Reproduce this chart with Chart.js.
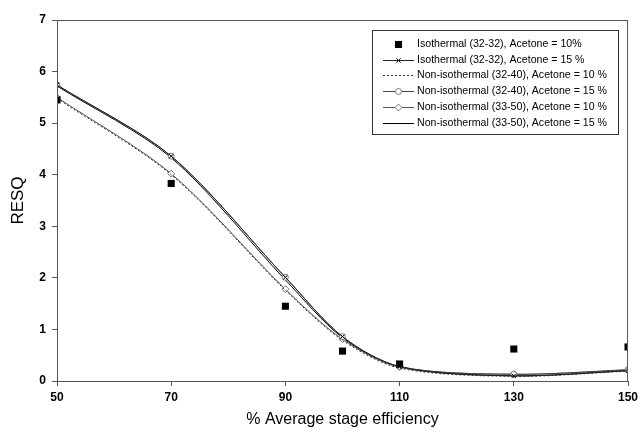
<!DOCTYPE html>
<html>
<head>
<meta charset="utf-8">
<script src="https://cdn.jsdelivr.net/npm/chart.js@4/dist/chart.umd.min.js"></script>
<style>
html,body{margin:0;padding:0;background:#fff;}
#wrap{position:relative;width:643px;height:438px;}
</style>
</head>
<body>
<div id="wrap"><canvas id="c" width="643" height="438"></canvas></div>
<script>
// ---- data ----
const efficiency = [50, 70, 90, 100, 110, 130, 150];
const xTicks = [50, 70, 90, 110, 130, 150];
const yTicks = [0, 1, 2, 3, 4, 5, 6, 7];
const seriesNames = [
  'Isothermal (32-32), Acetone = 10%',
  'Isothermal (32-32), Acetone = 15 %',
  'Non-isothermal (32-40), Acetone = 10 %',
  'Non-isothermal (32-40), Acetone = 15 %',
  'Non-isothermal (33-50), Acetone = 10 %',
  'Non-isothermal (33-50), Acetone = 15 %'
];
const iso10     = [5.45, 3.83, 1.45, 0.58, 0.33, 0.62, 0.66];
const iso15     = [5.74, 4.36, 2.01, 0.86, 0.28, 0.10, 0.20];
const non3240_10 = [5.48, 4.00, 1.76, 0.79, 0.25, 0.09, 0.19];
const non3240_15 = [5.74, 4.36, 2.01, 0.86, 0.28, 0.13, 0.22];
const non3350_10 = [5.50, 4.02, 1.78, 0.81, 0.27, 0.13, 0.21];
const non3350_15 = [5.72, 4.33, 1.96, 0.84, 0.27, 0.10, 0.20];

const pts = arr => arr.map((v, i) => ({x: efficiency[i], y: v}));

const styles = [
  {showLine:false, pointStyle:'rect', pointRadius:5, backgroundColor:'#000', borderColor:'#000', borderWidth:0},
  {showLine:true, pointStyle:'crossRot', pointRadius:3, backgroundColor:'#000', borderColor:'#222', borderWidth:1, pointBorderColor:'#000'},
  {showLine:true, pointStyle:false, pointRadius:0, borderColor:'#333', borderWidth:1, borderDash:[2,2]},
  {showLine:true, pointStyle:'circle', pointRadius:3, backgroundColor:'#fff', borderColor:'#444', borderWidth:1, pointBorderColor:'#777'},
  {showLine:true, pointStyle:'rectRot', pointRadius:3.5, backgroundColor:'#fff', borderColor:'#555', borderWidth:1, pointBorderColor:'#777'},
  {showLine:true, pointStyle:false, pointRadius:0, borderColor:'#000', borderWidth:1}
];
const allData = [iso10, iso15, non3240_10, non3240_15, non3350_10, non3350_15];

const datasets = allData.map((d, i) => Object.assign({
  label: seriesNames[i],
  data: pts(d),
  tension: 0.3,
  fill: false,
  pointHoverRadius: 0
}, styles[i]));

const PLOT = {left:57, right:628, top:20, bottom:381};

const framePlugin = {
  id: 'frame',
  afterDatasetsDraw(chart) {
    const {ctx, chartArea: a} = chart;
    ctx.save();
    ctx.strokeStyle = '#555';
    ctx.lineWidth = 1;
    ctx.strokeRect(Math.round(a.left) + 0.5, Math.round(a.top) + 0.5,
                   Math.round(a.right - a.left) - 1, Math.round(a.bottom - a.top));
    ctx.restore();
  }
};

const legendPlugin = {
  id: 'boxLegend',
  afterDraw(chart) {
    const ctx = chart.ctx;
    const bx = 372, by = 30, bw = 246, bh = 104;
    ctx.save();
    ctx.fillStyle = '#fff';
    ctx.fillRect(bx, by, bw, bh);
    ctx.strokeStyle = '#333';
    ctx.lineWidth = 1;
    ctx.strokeRect(bx + 0.5, by + 0.5, bw, bh);
    const rowY0 = 44, step = 15.7;
    const lx0 = 383, lx1 = 414, mx = 398.5;
    ctx.font = '10.6px Arial, "Liberation Sans", sans-serif';
    ctx.textBaseline = 'middle';
    chart.data.datasets.forEach((ds, i) => {
      const y = Math.round(rowY0 + i * step) + 0.5;
      if (ds.showLine) {
        ctx.save();
        ctx.strokeStyle = ds.borderColor;
        ctx.lineWidth = 1;
        ctx.setLineDash(ds.borderDash || []);
        ctx.beginPath();
        ctx.moveTo(lx0, y); ctx.lineTo(lx1, y);
        ctx.stroke();
        ctx.restore();
      }
      if (ds.pointStyle) {
        ctx.save();
        ctx.fillStyle = ds.backgroundColor;
        ctx.strokeStyle = ds.pointBorderColor || ds.borderColor;
        ctx.lineWidth = ds.borderWidth || 1;
        Chart.helpers.drawPoint(ctx, {pointStyle: ds.pointStyle, radius: ds.pointRadius, borderWidth: ds.borderWidth || 0}, mx, y);
        ctx.restore();
      }
      ctx.fillStyle = '#000';
      ctx.fillText(ds.label, 417, y);
    });
    ctx.restore();
  }
};

new Chart(document.getElementById('c'), {
  type: 'scatter',
  data: {datasets},
  options: {
    responsive: false,
    animation: false,
    devicePixelRatio: 1,
    layout: {padding: {top: PLOT.top, right: 643 - PLOT.right, left: 0, bottom: 0}},
    plugins: {legend: {display: false}, tooltip: {enabled: false}},
    scales: {
      x: {
        type: 'linear', min: 50, max: 150,
        afterBuildTicks: s => { s.ticks = xTicks.map(v => ({value: v})); },
        afterFit: s => { s.height = 438 - PLOT.bottom; },
        ticks: {color: '#000', font: {family: 'Arial, "Liberation Sans", sans-serif', size: 12, weight: 'bold'}, padding: 4, maxRotation: 0},
        grid: {drawOnChartArea: false, drawTicks: true, tickLength: 5, color: '#555'},
        border: {display: true, color: '#555'},
        title: {display: true, text: '% Average stage efficiency', color: '#000',
                font: {family: 'Arial, "Liberation Sans", sans-serif', size: 16}, padding: {bottom: 9}}
      },
      y: {
        type: 'linear', min: 0, max: 7,
        afterBuildTicks: s => { s.ticks = yTicks.map(v => ({value: v})); },
        afterFit: s => { s.width = PLOT.left; },
        ticks: {color: '#000', font: {family: 'Arial, "Liberation Sans", sans-serif', size: 12, weight: 'bold'}, padding: 6},
        grid: {drawOnChartArea: false, drawTicks: true, tickLength: 5, color: '#555'},
        border: {display: true, color: '#555'},
        title: {display: true, text: 'RESQ', color: '#000',
                font: {family: 'Arial, "Liberation Sans", sans-serif', size: 17}, padding: {top: 8}}
      }
    }
  },
  plugins: [framePlugin, legendPlugin]
});
</script>
</body>
</html>
